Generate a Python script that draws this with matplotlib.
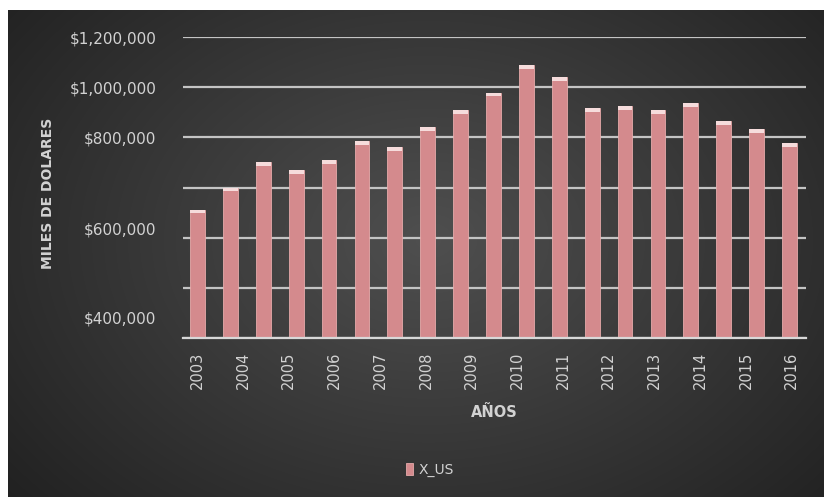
import numpy as np
import matplotlib.pyplot as plt

# values (19 bars, 14 year labels as drawn)
x_us = [512000, 600000, 700000, 668000, 708000, 784000, 760000, 840000,
        908000, 978000, 1088000, 1040000, 916000, 924000, 908000, 936000,
        864000, 832000, 776000]
years = ['2003', '2004', '2005', '2006', '2007', '2008', '2009', '2010',
         '2011', '2012', '2013', '2014', '2015', '2016']
grid_vals = [0, 200000, 400000, 600000, 800000, 1000000, 1200000]
grid_labels = ['', '', '', '', '$800,000', '$1,000,000', '$1,200,000']
# the two lower labels sit off the grid in the picture
extra_vals = [80000, 436000]
extra_labels = ['$400,000', '$600,000']

txt = '#d2d2d2'
W, H = 824, 497
fig = plt.figure(figsize=(W / 100, H / 100), dpi=100, facecolor='white')

# dark radial background
bg = fig.add_axes([8 / W, 0, (W - 8) / W, (H - 10) / H])
yy, xx = np.mgrid[0:487, 0:816]
r = np.sqrt(((xx - 420) / 520.0) ** 2 + ((yy - 230) / 380.0) ** 2)
shade = np.clip(0.31 - 0.17 * r, 0.13, 0.31)
bg.imshow(np.dstack([shade] * 3), aspect='auto', interpolation='bilinear')
bg.axis('off')

ax = fig.add_axes([183 / W, 1 - 338 / H, 623 / W, 301 / H])
ax.patch.set_visible(False)
pos = np.arange(len(x_us))
bars = ax.bar(pos, x_us, width=0.45, color='#d48a8d', edgecolor='#e6aaaa',
              linewidth=0.6, zorder=3, label='X_US')
ax.bar(pos, 14000, bottom=np.array(x_us) - 14000, width=0.45,
       color='#f6dcdc', linewidth=0, zorder=4)
ax.set_xlim(-0.44, len(x_us) - 0.5)
ax.set_ylim(0, 1200000)

ax.set_yticks(grid_vals)
ax.set_yticklabels(grid_labels)
ax.set_yticks(extra_vals, minor=True)
ax.set_yticklabels(extra_labels, minor=True)
ax.tick_params(axis='y', which='both', length=0, pad=19, labelsize=11,
               labelcolor=txt)
ax.grid(axis='y', which='major', color='#c4c4c4', linewidth=1.6, zorder=1)
ax.set_xticks([])
for s in ['top', 'right', 'left']:
    ax.spines[s].set_visible(False)
ax.spines['bottom'].set_color('#d8d8d8')
ax.spines['bottom'].set_linewidth(1.6)
ax.spines['bottom'].set_zorder(5)
ax.set_ylabel('MILES DE DOLARES', color=txt, fontsize=10, fontweight='bold')
ax.yaxis.set_label_coords(-0.205, 0.48)

# year labels spread over the full width, as in the picture
ax2 = ax.twiny()
ax2.patch.set_visible(False)
ax2.xaxis.set_ticks_position('bottom')
ax2.xaxis.set_label_position('bottom')
ax2.set_xlim(-0.31, len(years) - 1 + 0.31)
ax2.set_xticks(range(len(years)))
ax2.set_xticklabels(years, rotation=90, fontsize=10.5, color=txt)
ax2.tick_params(axis='x', length=0, pad=10)
for s in ax2.spines.values():
    s.set_visible(False)
ax2.set_xlabel('AÑOS', color=txt, fontsize=10.5, fontweight='bold',
               labelpad=11)

fig.legend(handles=[bars], loc='center', bbox_to_anchor=(430 / W, 1 - 470 / H),
           frameon=False, labelcolor=txt, fontsize=10, handlelength=0.5,
           handleheight=0.9, handletextpad=0.4)

fig.savefig('out.png', dpi=100, facecolor='white')
